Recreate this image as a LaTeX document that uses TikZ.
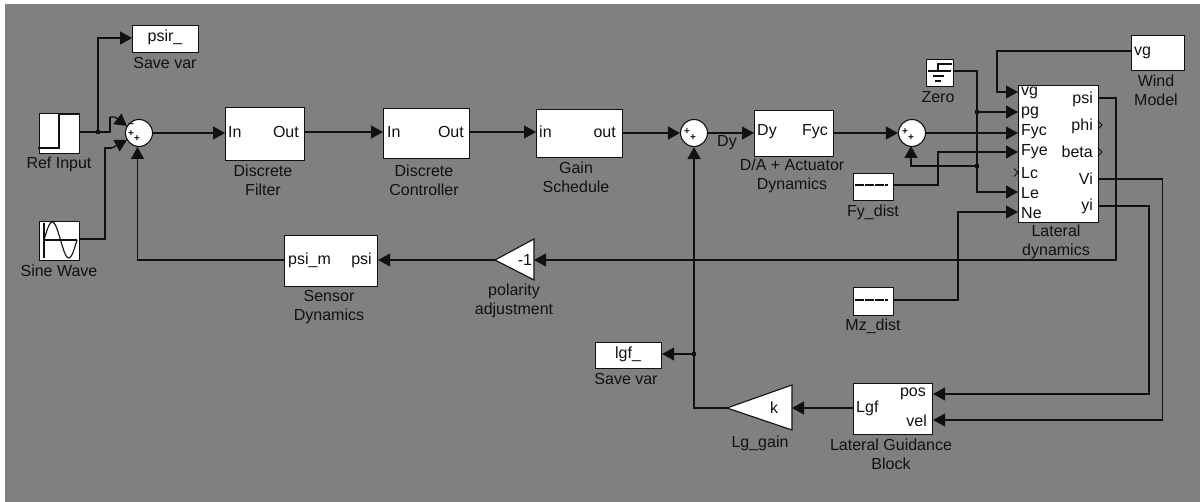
\documentclass[tikz,border=0pt]{standalone}
\usepackage{fontspec}
\setmainfont{Liberation Sans}
\usetikzlibrary{arrows.meta}
\definecolor{canvas}{HTML}{808080}
\definecolor{ink}{HTML}{111111}
\tikzset{
  x=1pt,y=-1pt,
  blk/.style={draw=ink,fill=white,line width=1.1pt,inner sep=0pt},
  captxt/.style={text=ink,font=\fontsize{16}{19}\selectfont,align=center,inner sep=0pt},
  port/.style={text=ink,font=\fontsize{16}{19}\selectfont,inner sep=0pt},
  wire/.style={draw=ink,line width=1.3pt},
  arr/.style={wire,-{Triangle[length=12pt,width=13pt]}},
  sumblk/.style={circle,draw=ink,fill=white,line width=1.1pt,minimum size=27pt,inner sep=0pt},
  sign/.style={text=ink,font=\fontsize{10}{10}\selectfont\bfseries,inner sep=0pt},
  dotj/.style={fill=ink,inner sep=0pt,minimum size=3.5pt,rectangle},
  icon/.style={draw=ink,line width=1.1pt},
}
\newcommand{\boxnode}[5]{\node[blk,anchor=north west,minimum width=#4pt-#2pt,minimum height=#5pt-#3pt] (#1) at (#2,#3) {};}
\begin{document}
\begin{tikzpicture}
\useasboundingbox (0,0) rectangle (1200,502);
\fill[white] (0,0) rectangle (1200,502);
\fill[canvas] (5,4) rectangle (1200,502);

% blocks
\boxnode{psir}{132}{25}{198}{52}
\boxnode{ref}{39}{113}{79}{153}
\boxnode{sine}{39}{221}{79}{260}
\boxnode{filt}{225}{107}{304}{160}
\boxnode{ctrl}{383}{108}{469}{158}
\boxnode{gain}{536}{109}{622}{157}
\boxnode{da}{754}{110}{833}{156}
\boxnode{zero}{926}{59}{953}{86}
\boxnode{fy}{853}{173}{893}{200}
\boxnode{mz}{853}{287}{893}{315}
\boxnode{lat}{1018}{85}{1098}{222}
\boxnode{wind}{1131}{35}{1184}{70}
\boxnode{sens}{284}{235}{377}{286}
\boxnode{lgb}{853}{383}{932}{434}
\boxnode{lgf}{595}{342}{661}{368}
\node[sumblk] (s1) at (139,133) {};
\node[sumblk] (s2) at (694,133) {};
\node[sumblk] (s3) at (912,133) {};
\draw[blk] (534,239) -- (534,280) -- (495,260) -- cycle;
\draw[blk] (792,385) -- (792,430) -- (727,408) -- cycle;
\coordinate (tri1r) at (534,260);
\coordinate (tri1l) at (495,260);
\coordinate (tri2r) at (792,408);
\coordinate (tri2l) at (727,408);

% free coordinates
\coordinate (j1) at (98,132);
\coordinate (j2) at (977,112);
\coordinate (j3) at (977,166);
\coordinate (j4) at (694,354);

% wires
\draw[wire] (ref.east |- 0,132) -- (110,132) -- (110,117);
\draw[arr] (110,117) -- (115,117) -- (127,126);
\draw[arr] (j1) -- (98,38) -- (psir.west |- 0,38);
\draw[wire] (sine.east |- 0,239) -- (105,239) -- (105,148) -- (112,148);
\draw[arr] (112,148) -- (127,140);
\draw[arr] (s1.east) -- (filt.west |- 0,133);
\draw[arr] (filt.east |- 0,132) -- (ctrl.west |- 0,132);
\draw[arr] (ctrl.east |- 0,132) -- (gain.west |- 0,132);
\draw[arr] (gain.east |- 0,133) -- (s2.west);
\draw[arr] (s2.east) -- (da.west |- 0,133);
\draw[arr] (da.east |- 0,133) -- (s3.west);
\draw[arr] (s3.east) -- (lat.west |- 0,133);
\draw[arr] (wind.west |- 0,51) -- (997,51) -- (997,92) -- (lat.west |- 0,92);
\draw[arr] (zero.east |- 0,71) -- (977,71) -- (977,192) -- (lat.west |- 0,192);
\draw[arr] (j2) -- (lat.west |- 0,112);
\draw[arr] (j3) -- (911,166) -- (911,146);
\draw[arr] (fy.east |- 0,185) -- (938,185) -- (938,152) -- (lat.west |- 0,152);
\draw[arr] (mz.east |- 0,300) -- (958,300) -- (958,212) -- (lat.west |- 0,212);
\draw[arr] (lat.east |- 0,98) -- (1116,98) -- (1116,260) -- (tri1r);
\draw[arr] (tri1l) -- (sens.east |- 0,260);
\draw[arr] (sens.west |- 0,260) -- (137.5,260) -- (137.5,147);
\draw[arr] (lat.east |- 0,179) -- (1162.5,179) -- (1162.5,420) -- (lgb.east |- 0,420);
\draw[arr] (lat.east |- 0,206) -- (1149,206) -- (1149,394) -- (lgb.east |- 0,394);
\draw[arr] (lgb.west |- 0,408) -- (tri2r);
\draw[arr] (tri2l) -- (694,408) -- (s2.south);
\draw[arr] (j4) -- (lgf.east |- 0,354);
\node[dotj] (dj1) at (j1) {};
\node[dotj] (dj2) at (j2) {};
\node[dotj] (dj3) at (j3) {};
\node[dotj] (dj4) at (j4) {};

% unconnected port chevrons
\draw[icon,line width=.8pt] (1014,168.5) -- (1018,172.5) -- (1014,176.5);
\draw[icon,line width=.8pt] (1098,121) -- (1102,125) -- (1098,129);
\draw[icon,line width=.8pt] (1098,148) -- (1102,152) -- (1098,156);

% icons
\draw[icon] (38,148) -- (59,148) -- (59,114) -- (79,114);
\draw[icon] (44,223) -- (44,258);
\draw[icon] (44,240) -- (77,240);
\draw[icon,domain=0:33,samples=50,smooth] plot ({44+\x},{240-18*sin(\x/33*360)});
\draw[icon] (928,71) -- (938,71) -- (938,64) -- (952,64);
\draw[icon] (938,71) -- (951,71);
\draw[icon] (933,76) -- (944,76);
\draw[icon] (935,81) -- (941,81);
\draw[icon,dash pattern=on 9pt off 1pt] (855,185) -- (888,185);
\draw[icon,dash pattern=on 9pt off 1pt] (855,300) -- (888,300);

% sum signs
\node[sign] (m1) at (131,126) {\textminus};
\node[sign] (p1) at (131,134) {+};
\node[sign] (p2) at (137,138.5) {+};
\node[sign] (p3) at (687,132) {+};
\node[sign] (p4) at (693,138) {+};
\node[sign] (p5) at (905,132) {+};
\node[sign] (p6) at (911,138) {+};

% block text
\node[port] (t1) at (165,37) {psir\_};
\node[port,anchor=west] (t2) at (228,132) {In};
\node[port,anchor=east] (t3) at (299,132) {Out};
\node[port,anchor=west] (t4) at (387,132) {In};
\node[port,anchor=east] (t5) at (464,132) {Out};
\node[port,anchor=west] (t6) at (539,132) {in};
\node[port,anchor=east] (t7) at (616,132) {out};
\node[port,anchor=west] (t8) at (757,132) {Dy};
\node[port,anchor=east] (t9) at (828,132) {Fyc};
\node[port,anchor=west] (t10) at (1134,53) {vg};
\node[port,anchor=west] (t11) at (288,260) {psi\_m};
\node[port,anchor=east] (t12) at (372,260) {psi};
\node[port] (t13) at (525,260) {-1};
\node[port] (t14) at (774,408) {k};
\node[port,anchor=west] (t15) at (856,408) {Lgf};
\node[port,anchor=east] (t16) at (926,394) {pos};
\node[port,anchor=east] (t17) at (927,421) {vel};
\node[port] (t18) at (628,354) {lgf\_};
\foreach \n/\y/\s in {a/93/vg,b/113/pg,c/132/Fyc,d/152/Fye,e/173/Lc,f/193/Le,g/213/Ne}
  \node[port,anchor=west] (i\n) at (1021,\y) {\s};
\foreach \n/\y/\s in {a/99/psi,b/126/phi,c/152/beta,d/179/Vi,e/206/yi}
  \node[port,anchor=east] (o\n) at (1093,\y) {\s};

% captions
\node[captxt] (c1) at (165,63) {Save var};
\node[captxt] (c2) at (59,164) {Ref Input};
\node[captxt] (c3) at (59,271) {Sine Wave};
\node[captxt] (c4) at (263,180.5) {Discrete\\Filter};
\node[captxt] (c5) at (424,180) {Discrete\\Controller};
\node[captxt] (c6) at (576,177.5) {Gain\\Schedule};
\node[captxt] (c7) at (727,143) {Dy};
\node[captxt] (c8) at (792,176) {D/A + Actuator\\Dynamics};
\node[captxt] (c9) at (938,97) {Zero};
\node[captxt] (c10) at (873,212) {Fy\_dist};
\node[captxt] (c11) at (873,326) {Mz\_dist};
\node[captxt] (c12) at (1056,242) {Lateral\\dynamics};
\node[captxt] (c13) at (1156,90) {Wind\\Model};
\node[captxt] (c14) at (329,307) {Sensor\\Dynamics};
\node[captxt] (c15) at (514,301) {polarity\\adjustment};
\node[captxt] (c16) at (626,379) {Save var};
\node[captxt] (c17) at (760,443) {Lg\_gain};
\node[captxt] (c18) at (891,454) {Lateral Guidance\\Block};
\end{tikzpicture}
\end{document}
